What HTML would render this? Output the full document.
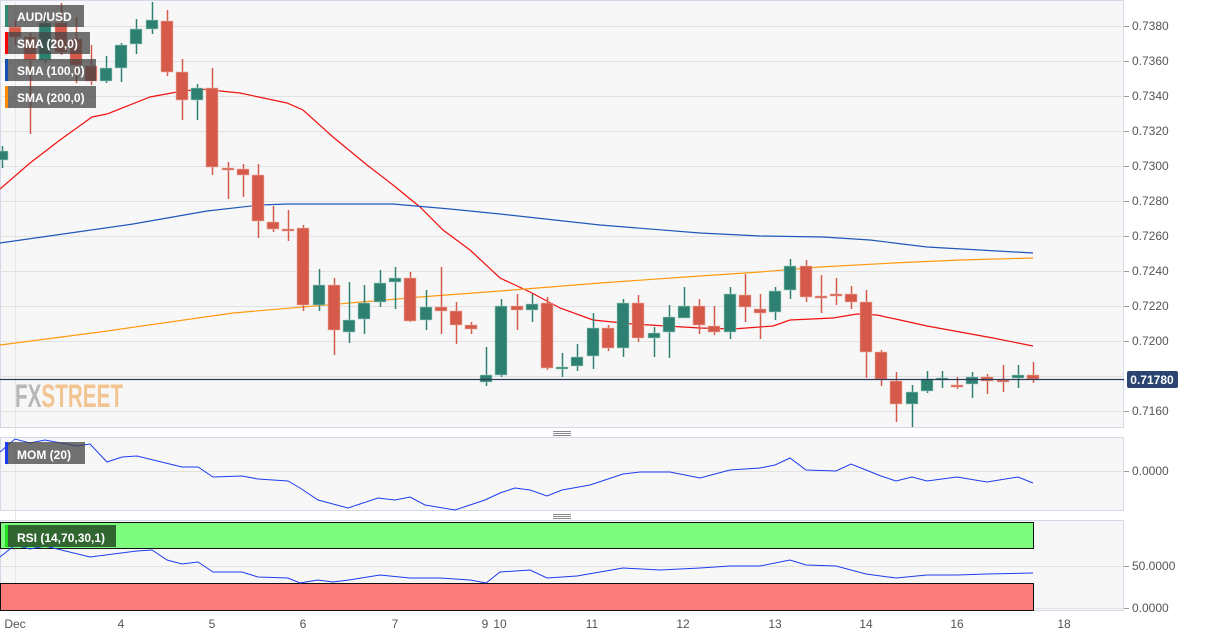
<!DOCTYPE html>
<html><head><meta charset="utf-8"><style>
html,body{margin:0;padding:0;background:#fff;}
svg{display:block;font-family:"Liberation Sans",Arial,sans-serif;}
</style></head><body>
<svg id="s" width="1208" height="636" viewBox="0 0 1208 636" xmlns="http://www.w3.org/2000/svg">
<rect x="0" y="0" width="1208" height="636" fill="#fff"/>
<rect x="0.5" y="0.5" width="1123" height="427" fill="#f7f7f7" stroke="#d3d9e6"/>
<rect x="0.5" y="437.5" width="1123" height="73" fill="#f7f7f7" stroke="#d3d9e6"/>
<rect x="0.5" y="520.5" width="1123" height="90" fill="#f7f7f7" stroke="#d3d9e6"/>
<g id="grid" stroke="#e2e2e2" stroke-width="1"></g>
<g stroke="#e6e6e6"><line x1="15.5" y1="0" x2="15.5" y2="610"/></g>
<text x="15" y="407" font-size="32" font-weight="bold" fill="#a8a8a8" opacity="0.8" textLength="108" lengthAdjust="spacingAndGlyphs">FX<tspan fill="#f0b878">STREET</tspan></text>
<g id="sma"></g>
<g id="candles"></g>
<line x1="0" y1="379.5" x2="1124" y2="379.5" stroke="#2b3a5a" stroke-width="1.2"/>
<rect x="1127" y="371" width="51" height="17" rx="2" fill="#2b4470"/>
<text x="1152" y="384" font-size="12" font-weight="bold" fill="#fff" text-anchor="middle">0.71780</text>
<g id="yl" font-size="12" fill="#555"></g>
<rect x="0.5" y="522.5" width="1033" height="26" fill="#7dfc7d" stroke="#111"/>
<rect x="0.5" y="583.5" width="1033" height="27" fill="#fc7b7b" stroke="#111"/>
<g id="ind" fill="none" stroke="#1b3cf0" stroke-width="1"></g>
<g stroke="#888"><line x1="553" y1="431.5" x2="571" y2="431.5"/><line x1="553" y1="433.5" x2="571" y2="433.5"/><line x1="553" y1="435.5" x2="571" y2="435.5"/>
<line x1="553" y1="514.5" x2="571" y2="514.5"/><line x1="553" y1="516.5" x2="571" y2="516.5"/><line x1="553" y1="518.5" x2="571" y2="518.5"/></g>
<g font-size="12" font-weight="bold" fill="#fff">
<rect x="5" y="5" width="79" height="22" fill="#444" opacity="0.75"/><rect x="5" y="5" width="3" height="22" fill="#2e8b6e"/><text x="17" y="21">AUD/USD</text>
<rect x="5" y="32" width="85" height="22" fill="#444" opacity="0.75"/><rect x="5" y="32" width="3" height="22" fill="#f00"/><text x="17" y="48">SMA (20,0)</text>
<rect x="5" y="59" width="91" height="22" fill="#444" opacity="0.75"/><rect x="5" y="59" width="3" height="22" fill="#1450b4"/><text x="17" y="75">SMA (100,0)</text>
<rect x="5" y="86" width="91" height="22" fill="#444" opacity="0.75"/><rect x="5" y="86" width="3" height="22" fill="#ff8c00"/><text x="17" y="102">SMA (200,0)</text>
<rect x="5" y="442" width="80" height="22" fill="#444" opacity="0.75"/><rect x="5" y="442" width="3" height="22" fill="#1b3cf0"/><text x="17" y="459">MOM (20)</text>
<rect x="5" y="525" width="111" height="22" fill="#2d5e2d" opacity="0.95"/><rect x="5" y="525" width="3" height="22" fill="#22dd22"/><text x="17" y="542">RSI (14,70,30,1)</text>
</g>
<g font-size="12" fill="#555" text-anchor="middle">
<text x="15" y="628">Dec</text><text x="121" y="628">4</text><text x="212" y="628">5</text><text x="303" y="628">6</text><text x="395" y="628">7</text><text x="485" y="628">9</text><text x="500" y="628">10</text><text x="592" y="628">11</text><text x="683" y="628">12</text><text x="775" y="628">13</text><text x="866" y="628">14</text><text x="957" y="628">16</text><text x="1064" y="628">18</text>
</g>
</svg>
<script>
var NS="http://www.w3.org/2000/svg";
function el(p,t,a){var e=document.createElementNS(NS,t);for(var k in a)e.setAttribute(k,a[k]);document.getElementById(p).appendChild(e);return e;}
var labels=["0.7380","0.7360","0.7340","0.7320","0.7300","0.7280","0.7260","0.7240","0.7220","0.7200","0.7180","0.7160"];
for(var i=0;i<12;i++){var y=26+35*i;el("grid","line",{x1:0,y1:y+.5,x2:1124,y2:y+.5});if(i!=10){el("yl","line",{x1:1124,y1:y+.5,x2:1129,y2:y+.5,stroke:"#999"});var t=el("yl","text",{x:1132,y:y+4});t.textContent=labels[i];}}
[[471,"0.0000"],[566,"50.0000"],[608,"0.0000"]].forEach(function(a){el("grid","line",{x1:0,y1:a[0]+.5,x2:1124,y2:a[0]+.5});el("yl","line",{x1:1124,y1:a[0]+.5,x2:1129,y2:a[0]+.5,stroke:"#999"});var t=el("yl","text",{x:1132,y:a[0]+4});t.textContent=a[1];});
var C=[[2,160,151,146,168],[15,27,37,20,45],[30,37,60,33,134],[45,60,23,15,63],[61,23,52,3,55],[76,39,65,17,83],[91,66,81,45,85],[106,81,68,56,83],[121,68,45,43,82],[136,44,29,19,54],[152,29,20,2,34],[167,21,72,10,76],[182,72,100,59,120],[197,100,88,84,120],[212,88,167,68,175],[228,168,169,162,199],[243,169,175,164,197],[258,175,221,164,238],[273,222,229,206,232],[288,229,230,210,241],[303,228,305,225,311],[319,305,285,269,311],[334,285,330,278,355],[349,332,320,282,343],[364,319,303,285,334],[380,302,283,270,307],[395,282,278,267,309],[410,278,321,272,322],[426,320,307,290,330],[441,307,311,267,334],[456,311,325,302,344],[471,325,329,322,334],[486,382,375,347,386],[501,375,306,299,377],[517,306,310,294,330],[532,310,304,294,322],[547,303,368,297,370],[562,368,367,353,377],[577,366,357,344,371],[593,356,328,313,369],[608,328,348,325,351],[623,348,303,299,357],[638,303,338,295,342],[654,338,333,327,357],[669,332,317,305,358],[684,318,306,287,318],[699,306,325,299,334],[714,326,332,306,335],[730,332,294,287,339],[745,295,307,274,322],[760,309,313,294,339],[775,312,291,287,320],[790,290,266,259,299],[806,266,297,260,302],[821,296,297,275,313],[836,294,295,278,305],[851,294,302,286,309],[866,302,352,290,378],[881,352,379,350,386],[896,381,404,372,422],[912,404,392,385,427],[927,391,379,371,393],[942,379,378,371,388],[957,385,386,377,389],[972,384,377,372,398],[987,377,381,374,394],[1003,380,381,365,392],[1018,378,375,365,388],[1033,375,379,362,383]];
C.forEach(function(c){var up=c[2]<c[1];var col=up?"#2e8070":"#d55a4a";el("candles","line",{x1:c[0]+.5,y1:c[3],x2:c[0]+.5,y2:c[4],stroke:col,"stroke-width":1.5});var t=Math.min(c[1],c[2]),h=Math.max(Math.abs(c[1]-c[2]),2);el("candles","rect",{x:c[0]-6,y:t,width:12,height:h,fill:col,stroke:up?"#a8d3c5":"#eeb0a5","stroke-width":0.6});});
function pl(p,pts,col,w){el(p,"polyline",{points:pts.map(function(a){return a.join(",")}).join(" "),fill:"none",stroke:col,"stroke-width":w||1.2});}
pl("sma",[[0,189],[30,163],[60,140],[92,117],[107,114],[150,97],[177,92],[200,89],[240,93],[287,103],[303,110],[333,137],[367,165],[393,185],[420,207],[443,230],[470,250],[500,278],[530,292],[560,308],[593,320],[633,324],[700,328],[733,329],[773,326],[790,320],[833,318],[857,314],[877,315],[900,320],[927,326],[960,332],[993,338],[1033,346]],"#f01010");
pl("sma",[[0,243],[133,224],[207,211],[260,205],[287,204],[393,204],[450,209],[500,214],[600,225],[700,233],[760,236],[823,237],[870,240],[927,247],[1033,253]],"#1f58b8");
pl("sma",[[0,345],[100,332],[233,313],[420,297],[500,291],[600,283],[700,276],[760,272],[820,267],[893,263],[960,260],[1033,258]],"#ff9a10");
pl("ind",[[0,452],[15,439],[30,443],[45,440],[77,446],[90,444],[107,462],[122,457],[137,456],[182,467],[198,467],[213,477],[242,476],[258,479],[288,481],[300,488],[318,500],[348,508],[378,498],[395,500],[410,497],[425,505],[455,510],[470,505],[485,500],[500,493],[515,488],[530,490],[547,496],[562,490],[590,485],[605,480],[623,474],[640,472],[670,472],[700,478],[730,470],[760,468],[775,465],[790,458],[806,470],[836,471],[851,464],[866,470],[881,476],[896,481],[912,477],[927,481],[957,477],[987,482],[1018,477],[1033,483]],"#1b3cf0",1);
pl("ind",[[0,557],[15,545],[30,549],[45,546],[90,557],[137,551],[152,550],[167,560],[182,564],[198,562],[213,572],[242,572],[258,577],[288,578],[300,583],[318,580],[333,582],[349,580],[380,575],[410,578],[440,578],[470,580],[486,583],[500,572],[530,570],[547,578],[577,576],[600,572],[623,568],[660,570],[700,568],[730,566],[760,566],[790,560],[806,565],[836,566],[866,574],[896,578],[927,575],[957,575],[987,574],[1033,573]],"#1b3cf0",1);
</script>
</body></html>
